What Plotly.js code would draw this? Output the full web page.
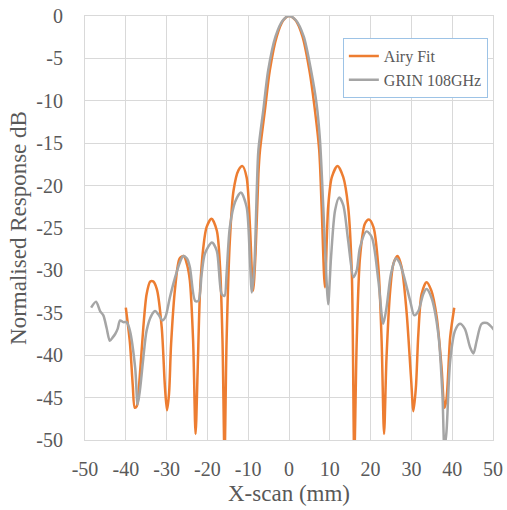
<!DOCTYPE html>
<html>
<head>
<meta charset="utf-8">
<script src="https://cdn.plot.ly/plotly-3.0.1.min.js"></script>
<style>html,body{margin:0;padding:0;background:#fff;}#chart{width:507px;height:510px;}</style>
</head>
<body>
<div id="chart"></div>
<script>
const airyX = [-40,-39,-38.3,-37.8,-37.3,-36.6,-35.7,-34.9,-34.0,-33.3,-32.4,-31.2,-30.4,-29.9,-29.4,-28.9,-27.9,-26.8,-25.8,-25.0,-24.3,-23.5,-22.9,-22.4,-21.8,-21.0,-20.2,-19.0,-17.7,-16.9,-16.3,-15.8,-15.3,-14.5,-13.6,-12.4,-11.4,-10.4,-9.6,-8.8,-8.2,-7.5,-7.1,-5.9,-4.7,-3.0,-1.4,0,1.6,3.3,5.0,6.2,7.4,8.0,8.8,9.6,10.5,11.9,13.3,14.5,15.4,16.0,16.6,17.4,18.6,19.6,20.7,21.9,22.7,23.3,23.9,24.8,25.6,26.6,27.6,28.8,29.9,30.5,31.1,31.7,32.5,33.7,34.9,36.2,37.4,38.1,38.6,39.5,40.5];
const airyY = [-34.4,-38.5,-43.5,-46.2,-46.0,-42.6,-36.7,-32.8,-31.3,-31.3,-32.2,-36.7,-43.8,-46.5,-44.5,-38.7,-32.0,-28.6,-28.3,-29.3,-31.2,-38.3,-49.3,-42.0,-32.4,-27.3,-24.9,-23.9,-25.3,-29.6,-38.3,-52,-38.3,-26.5,-20.6,-18.2,-17.7,-19.0,-24.5,-32.4,-28.0,-18.6,-15.8,-11.1,-6.4,-2.4,-0.5,0,-0.5,-2.4,-6.4,-10.5,-15.8,-22.5,-32.0,-22.5,-19.0,-17.7,-19.0,-22.5,-30.4,-52,-38.3,-28.5,-24.5,-24.0,-24.9,-29.6,-38.3,-49.3,-40.3,-32.4,-29.2,-28.3,-29.6,-34.8,-42.6,-46.6,-43.8,-37.5,-32.8,-31.4,-32.4,-35.5,-41.5,-46.2,-45.2,-37.9,-34.4];

const grinX = [-48.5,-47.3,-46.3,-45.5,-44.7,-43.9,-43.2,-42.6,-42.0,-41.4,-40.6,-39.8,-39.0,-37.7,-37.1,-36.5,-35.7,-34.9,-33.7,-32.8,-32.0,-31.0,-30.3,-29.2,-27.9,-26.7,-25.9,-25.0,-24.3,-23.0,-22.2,-21.4,-20.6,-18.9,-17.7,-16.5,-15.8,-15.3,-14.5,-13.2,-11.8,-10.4,-9.6,-9.1,-8.5,-7.9,-7.5,-6.3,-5.1,-3.3,-1.5,0,1.7,3.6,5.4,6.8,7.6,8.4,9.2,9.6,10.3,11.3,12.3,13.3,14.5,15.8,16.6,17.4,19.0,20.3,21.9,23.1,23.9,25.0,26.2,27.0,28.0,29.7,30.7,31.7,32.9,33.7,34.9,36.6,37.6,38.1,38.6,39.5,40.7,41.9,43.1,44.4,45.2,46.0,47.2,48.5,49.7,50.2];
const grinY = [-34.4,-33.7,-34.8,-35.3,-36.8,-38.3,-37.9,-37.5,-36.9,-35.9,-36.1,-36.1,-37.1,-41.5,-45.8,-44.0,-40.3,-37.1,-35.3,-34.8,-35.2,-35.9,-35.5,-33.2,-30.8,-29.0,-28.3,-28.6,-29.6,-33.6,-33.6,-30.4,-28.0,-26.7,-27.7,-32.8,-33.0,-30.4,-24.9,-21.9,-20.8,-22.5,-28.5,-32.6,-29.6,-20.6,-15.8,-11.1,-6.4,-2.4,-0.5,0,-0.5,-2.4,-6.4,-10.5,-14.7,-22.5,-31.2,-34.0,-28.5,-22.9,-21.4,-22.3,-26.5,-30.8,-30.0,-27.3,-25.4,-26.1,-31.2,-36.3,-34.4,-30.4,-28.6,-29.0,-30.4,-33.6,-35.3,-34.8,-32.8,-32.2,-33.2,-37.5,-44.6,-51,-49,-40.7,-37.1,-36.3,-36.9,-39.1,-39.8,-38.3,-36.3,-36.2,-36.7,-37.0];

const seriesNames = ["Airy Fit", "GRIN 108GHz"];
const xTickVals = [-50,-40,-30,-20,-10,0,10,20,30,40,50];
const yTickVals = [0,-5,-10,-15,-20,-25,-30,-35,-40,-45,-50];

const font = "Liberation Serif, Times New Roman, serif";
const traces = [
  {x: airyX, y: airyY, name: seriesNames[0], mode: "lines",
   line: {color: "#ED7D31", width: 2.5, shape: "spline", smoothing: 0.8}},
  {x: grinX, y: grinY, name: seriesNames[1], mode: "lines",
   line: {color: "#A5A5A5", width: 2.5, shape: "spline", smoothing: 0.8}}
];
const layout = {
  width: 507, height: 510,
  margin: {l: 85, r: 14, t: 16, b: 70},
  paper_bgcolor: "#fff", plot_bgcolor: "#fff",
  font: {family: font, size: 20, color: "#595959"},
  showlegend: true,
  legend: {x: 0.632, y: 0.948, xanchor: "left", yanchor: "top",
    bordercolor: "#9DC3E6", borderwidth: 1, bgcolor: "#fff",
    font: {family: font, size: 16, color: "#595959"}, tracegroupgap: 0, itemwidth: 30},
  xaxis: {range: [-50, 50], tickvals: xTickVals, ticktext: xTickVals.map(String),
    showgrid: true, gridcolor: "#D9D9D9", gridwidth: 1, zeroline: false,
    showline: true, linecolor: "#D9D9D9", mirror: true,
    ticks: "", ticklabelstandoff: 11, tickfont: {family: font, size: 20, color: "#595959"},
    title: {text: "X-scan (mm)", font: {family: font, size: 23, color: "#595959"}, standoff: 5}},
  yaxis: {range: [-50, 0], tickvals: yTickVals, ticktext: yTickVals.map(String),
    showgrid: true, gridcolor: "#D9D9D9", gridwidth: 1, zeroline: false,
    showline: true, linecolor: "#D9D9D9", mirror: true,
    ticks: "", ticklabelstandoff: 17, tickfont: {family: font, size: 20, color: "#595959"},
    title: {text: "Normalised Response dB", font: {family: font, size: 23, color: "#595959"}, standoff: 3}}
};
Plotly.newPlot("chart", traces, layout, {displayModeBar: false, staticPlot: true});
</script>
</body>
</html>
